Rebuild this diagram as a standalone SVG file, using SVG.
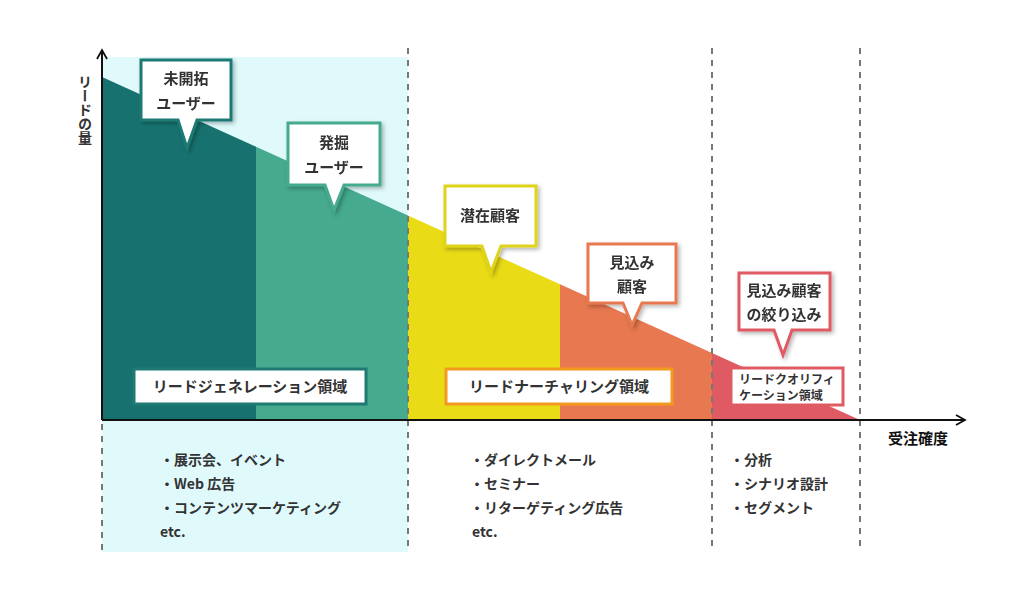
<svg xmlns="http://www.w3.org/2000/svg" width="1024" height="601" viewBox="0 0 1024 601">
<defs>
<filter id="sh" x="-20%" y="-20%" width="140%" height="140%"><feDropShadow dx="2" dy="2" stdDeviation="2" flood-opacity="0.3"/></filter>
<marker id="ar" viewBox="0 0 12 12" refX="10" refY="6" markerWidth="12" markerHeight="12" markerUnits="userSpaceOnUse" orient="auto"><path d="M1,1 L10,6 L1,11" fill="none" stroke="#111" stroke-width="1.8"/></marker>
</defs>
<style>
text{font-family:"Noto Sans CJK JP","Noto Sans",sans-serif;font-weight:bold;fill:#333;}
.c{text-anchor:middle;font-size:15px}
.l{font-size:14px}
.dash{stroke:#777;stroke-width:2;stroke-dasharray:6,6;fill:none}
.b{fill:#fff;stroke-width:3}
</style>
<rect width="1024" height="601" fill="#fff"/>
<rect x="102" y="57" width="306" height="495" fill="#e0fafc"/>
<g id="areas">
<polygon points="102,77 256,146.7 256,420 102,420" fill="#17726f"/>
<polygon points="256,146.7 408,215.5 408,420 256,420" fill="#45aa8e"/>
<polygon points="408,215.5 560,284.3 560,420 408,420" fill="#e9dc16"/>
<polygon points="560,284.3 712,353 712,420 560,420" fill="#e7784f"/>
<polygon points="712,353 860,420 712,420" fill="#e05a64"/>
</g>
<g id="connectors">
<line class="dash" x1="408" y1="48" x2="408" y2="552"/>
<line class="dash" x1="712" y1="48" x2="712" y2="552"/>
<line class="dash" x1="860" y1="48" x2="860" y2="552"/>
<line class="dash" x1="102" y1="424" x2="102" y2="552"/>
<line x1="102" y1="420" x2="102" y2="50" stroke="#111" stroke-width="2" marker-end="url(#ar)"/>
<line x1="102" y1="420" x2="965" y2="420" stroke="#111" stroke-width="2" marker-end="url(#ar)"/>
</g>
<text x="85" y="75" font-size="14" style="writing-mode:vertical-rl" fill="#111">リードの量</text>
<text x="918" y="444" class="c" fill="#111" style="fill:#111">受注確度</text>
<g id="n1" filter="url(#sh)"><path class="b" stroke="#1f7a74" d="M141,60 H231 V120 H197 L187,148 L178,120 H141 Z"/><text class="c" x="186" y="84">未開拓</text><text class="c" x="186" y="109">ユーザー</text></g>
<g id="n2" filter="url(#sh)"><path class="b" stroke="#45aa8e" d="M288,123 H380 V185 H344 L334,210 L325,185 H288 Z"/><text class="c" x="334" y="148">発掘</text><text class="c" x="334" y="173">ユーザー</text></g>
<g id="n3" filter="url(#sh)"><path class="b" stroke="#e0d31a" d="M445,186 H536 V246 H501 L491,272 L482,246 H445 Z"/><text class="c" x="490" y="221">潜在顧客</text></g>
<g id="n4" filter="url(#sh)"><path class="b" stroke="#e7784f" d="M588,244 H676 V303 H642 L632,325 L623,303 H588 Z"/><text class="c" x="632" y="268">見込み</text><text class="c" x="632" y="292">顧客</text></g>
<g id="n5" filter="url(#sh)"><path class="b" stroke="#e05a64" d="M739,273 H830 V330 H792 L783,355 L774,330 H739 Z"/><text class="c" x="784" y="296">見込み顧客</text><text class="c" x="784" y="320">の絞り込み</text></g>
<g id="r1"><rect class="b" stroke="#1f7a74" x="134" y="369" width="232" height="35"/><text class="c" x="250" y="392">リードジェネレーション領域</text></g>
<g id="r2"><rect class="b" stroke="#f29a1e" x="446" y="369" width="226" height="35"/><text class="c" x="559" y="392">リードナーチャリング領域</text></g>
<g id="r3"><rect class="b" stroke="#e05a64" x="731" y="368" width="112" height="37"/><text x="787" y="384" text-anchor="middle" font-size="12">リードクオリフィ</text><text x="781" y="400" text-anchor="middle" font-size="12">ケーション領域</text></g>
<g id="list1"><text class="l" x="160" y="465">・展示会、イベント</text><text class="l" x="160" y="489">・Web 広告</text><text class="l" x="160" y="513">・コンテンツマーケティング</text><text class="l" x="160" y="537">etc.</text></g>
<g id="list2"><text class="l" x="470" y="465">・ダイレクトメール</text><text class="l" x="470" y="489">・セミナー</text><text class="l" x="470" y="513">・リターゲティング広告</text><text class="l" x="472" y="537">etc.</text></g>
<g id="list3"><text class="l" x="730" y="465">・分析</text><text class="l" x="730" y="489">・シナリオ設計</text><text class="l" x="730" y="513">・セグメント</text></g>
</svg>
